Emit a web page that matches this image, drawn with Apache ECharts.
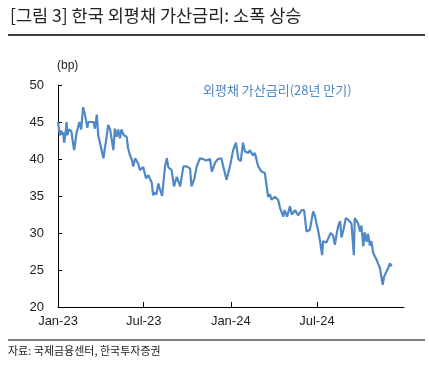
<!DOCTYPE html>
<html>
<head>
<meta charset="utf-8">
<script src="https://cdn.jsdelivr.net/npm/echarts@6/dist/echarts.min.js"></script>
<style>
html,body{margin:0;padding:0;background:#fff;}
#c{width:429px;height:365px;}
</style>
</head>
<body>
<div id="c"></div>
<script>
const dates = [
'2023-01-01','2023-01-03','2023-01-05','2023-01-08','2023-01-10','2023-01-12','2023-01-14','2023-01-17','2023-01-19','2023-01-21',
'2023-01-24','2023-01-26','2023-01-29','2023-02-02','2023-02-04','2023-02-07','2023-02-09','2023-02-12','2023-02-15','2023-02-19',
'2023-02-23','2023-02-27','2023-03-04','2023-03-06','2023-03-11','2023-03-17','2023-03-20','2023-03-24','2023-03-27','2023-03-31',
'2023-04-07','2023-04-10','2023-04-12','2023-04-17','2023-04-21','2023-04-28','2023-05-01','2023-05-05','2023-05-08','2023-05-12',
'2023-05-15','2023-05-20','2023-05-26','2023-05-29','2023-06-02','2023-06-06','2023-06-09','2023-06-13','2023-06-20','2023-06-23',
'2023-06-30','2023-07-06','2023-07-11','2023-07-18','2023-07-21','2023-07-25','2023-07-28','2023-08-01','2023-08-04','2023-08-09',
'2023-08-15','2023-08-19','2023-08-22','2023-08-29','2023-09-03','2023-09-09','2023-09-16','2023-09-23','2023-09-30','2023-10-07',
'2023-10-10','2023-10-16','2023-10-21','2023-10-28','2023-11-03','2023-11-10','2023-11-18','2023-11-22','2023-11-29','2023-12-05',
'2023-12-12','2023-12-16','2023-12-23','2023-12-30','2024-01-06','2024-01-12','2024-01-17','2024-01-22','2024-01-27','2024-01-31',
'2024-02-07','2024-02-10','2024-02-17','2024-02-21','2024-02-28','2024-03-06','2024-03-13','2024-03-20','2024-03-24','2024-03-27',
'2024-04-03','2024-04-10','2024-04-14','2024-04-21','2024-04-24','2024-04-29','2024-05-05','2024-05-09','2024-05-16','2024-05-22',
'2024-05-30','2024-06-04','2024-06-09','2024-06-16','2024-06-23','2024-06-27','2024-06-30','2024-07-04','2024-07-07','2024-07-12',
'2024-07-14','2024-07-21','2024-07-25','2024-07-30','2024-08-04','2024-08-08','2024-08-12','2024-08-15','2024-08-19','2024-08-22',
'2024-08-26','2024-08-31','2024-09-05','2024-09-09','2024-09-12','2024-09-17','2024-09-19','2024-09-23','2024-09-26','2024-09-30',
'2024-10-03','2024-10-07','2024-10-10','2024-10-14','2024-10-17','2024-10-21','2024-10-24','2024-10-28','2024-10-31','2024-11-04',
'2024-11-07','2024-11-11','2024-11-17','2024-11-20','2024-11-25','2024-11-29','2024-12-02','2024-12-06'
];
const spread = [
45,45,43.2,43.8,43.3,43.6,42.2,43.5,45,43.2,
44,44,43.8,44,41.2,42.5,43.5,44.2,45,44,
47,46,44.2,45,45,45,44.1,46,43.2,43,
40.1,41.5,42.2,44.6,44,41.2,44.1,43,44,42.8,
44,43.2,43,41.5,40.5,39.9,39,40.1,39.3,38.5,
38.9,37.4,37.8,36.8,35.1,35.5,35.2,36.7,36,35,
39,40.1,38.9,38.5,36.3,37.6,36.3,39,39,38.7,
36.3,37.3,39,40.1,40,39.8,40,38.3,39.5,40,
40.1,40,37.2,38.9,41.2,42.2,40,39.7,42.2,41,
40.8,41.2,40.5,40.8,39,38.3,38.1,34.9,35.2,34.5,
34.9,34.5,33.4,32.2,33.1,32.2,33.6,32.5,33.1,32.4,
33.1,33.1,30.2,30.4,32.9,32.3,31.3,30.2,29.1,27,
28.9,28.7,28.9,30,29.7,28.4,30,30.9,31.6,29.4,
30.4,32,31.8,32,31.3,27,32,31.8,31.3,30.2,
31,28.2,30.1,28.8,29.9,28.3,28.9,27.3,27.1,26.4,
25.9,25.3,23,24.1,24.8,25.3,25.9,25.5
];
const tickDates = ['2023-01-01','2023-07-01','2024-01-01','2024-07-01'];
const tickLabels = ['Jan-23','Jul-23','Jan-24','Jul-24'];
const axisStart = '2023-01-01';
const axisEnd = '2025-01-01';
const seriesName = '외평채 가산금리(28년 만기)';
const titleText = '[그림 3] 한국 외평채 가산금리: 소폭 상승';
const sourceText = '자료: 국제금융센터, 한국투자증권';
const unitText = '(bp)';

function ts(s){const p=s.split('-').map(Number);return Date.UTC(p[0],p[1]-1,p[2]);}
const tickTs = tickDates.map(ts);

const chart = echarts.init(document.getElementById('c'), null, {renderer:'canvas'});
const font = "'Liberation Sans', 'Noto Sans CJK KR', sans-serif";
const kfont = "'Noto Sans CJK KR', sans-serif";
chart.setOption({
  animation:false,
  backgroundColor:'#fff',
  grid:{left:58,right:25,top:85,bottom:58,containLabel:false},
  xAxis:{
    type:'value',
    min:ts(axisStart), max:ts(axisEnd),
    axisLine:{lineStyle:{color:'#000',width:1}},
    axisTick:{show:true,inside:true,length:5,lineStyle:{color:'#000'},customValues:tickTs},
    axisLabel:{color:'#222',fontSize:13,fontFamily:font,margin:8,customValues:tickTs,
      formatter:function(v){const i=tickTs.indexOf(v);return i>=0?tickLabels[i]:'';}},
    splitLine:{show:false}
  },
  yAxis:{
    type:'value',min:20,max:50,interval:5,
    axisLine:{show:true,lineStyle:{color:'#000',width:1}},
    axisTick:{show:true,inside:true,length:4,lineStyle:{color:'#000'}},
    axisLabel:{color:'#222',fontSize:13,fontFamily:font,margin:14},
    splitLine:{show:false}
  },
  series:[{
    name:seriesName,type:'line',showSymbol:false,
    data:dates.map((d,i)=>[ts(d),spread[i]]),
    lineStyle:{color:'#4F88C6',width:2.2},
    itemStyle:{color:'#4F88C6'}
  }],
  graphic:[
    {type:'text',left:10,top:7,style:{text:titleText,fill:'#222',font:'17.5px '+kfont}},
    {type:'line',shape:{x1:8,y1:35,x2:425,y2:35},style:{stroke:'#000',lineWidth:1.5}},
    {type:'text',left:57,top:60,style:{text:unitText,fill:'#222',font:'12px '+font}},
    {type:'text',left:203,top:84,style:{text:seriesName,fill:'#4F88C6',font:'13px '+kfont}},
    {type:'line',shape:{x1:8,y1:340,x2:425,y2:340},style:{stroke:'#000',lineWidth:1}},
    {type:'text',left:8,top:345,style:{text:sourceText,fill:'#222',font:'11px '+kfont}}
  ]
});
</script>
</body>
</html>
